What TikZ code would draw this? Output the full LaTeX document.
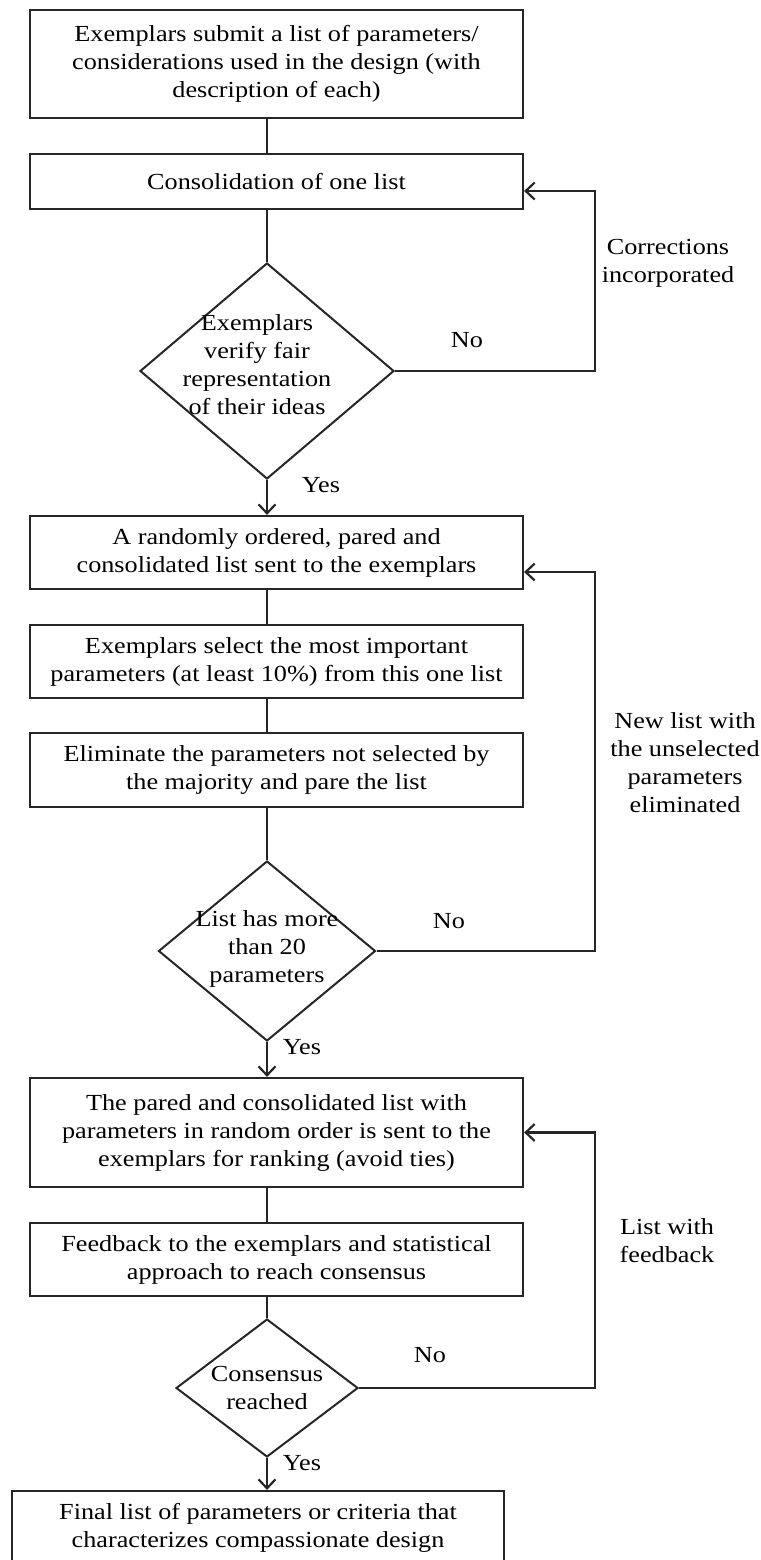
\documentclass[tikz,border=0pt]{standalone}
\usepackage{fontspec}
\setmainfont[FakeStretch=1.14]{Liberation Serif}
\usetikzlibrary{shapes.geometric,arrows.meta}
\begin{document}
\begin{tikzpicture}[x=1pt,y=-1pt,
  every node/.style={font=\fontsize{23}{28}\selectfont, text=black},
  box/.style={draw=black!85, line width=2.2pt, minimum width=493pt, align=center, inner sep=0pt},
  dia/.style={draw=black!85, diamond, line width=2pt, inner sep=0pt},
  txt/.style={align=center, inner sep=0pt},
  conn/.style={draw=black!85, line width=2pt},
  arr/.style={draw=black!85, line width=2.2pt, -{Straight Barb[length=9pt,width=17pt]}}
]
\useasboundingbox (0,0) rectangle (760,1560);

% boxes
\node[box, minimum height=108pt] (b1) at (276.5,64) {Exemplars submit a list of parameters/\\considerations used in the design (with\\description of each)};
\node[box, minimum height=55pt] (b2) at (276.5,181.5) {Consolidation of one list};
\node[box, minimum height=73pt] (b3) at (276.5,552.5) {A randomly ordered, pared and\\consolidated list sent to the exemplars};
\node[box, minimum height=73pt] (b4) at (276.5,661.5) {Exemplars select the most important\\parameters (at least 10\%) from this one list};
\node[box, minimum height=74pt] (b5) at (276.5,770) {Eliminate the parameters not selected by\\the majority and pare the list};
\node[box, minimum height=109pt] (b6) at (276.5,1132.5) {The pared and consolidated list with\\parameters in random order is sent to the\\exemplars for ranking (avoid ties)};
\node[box, minimum height=73pt] (b7) at (276.5,1259.5) {Feedback to the exemplars and statistical\\approach to reach consensus};
\node[box, minimum width=492pt, minimum height=73pt] (b8) at (258,1527.5) {Final list of parameters or criteria that\\characterizes compassionate design};

% diamonds
\node[dia, minimum width=254pt, minimum height=216pt] (d1) at (267,371) {};
\node[txt, xshift=-10pt, yshift=6pt] (d1t) at (d1) {Exemplars\\verify fair\\representation\\of their ideas};
\node[dia, minimum width=217pt, minimum height=180pt] (d2) at (267,951) {};
\node[txt, yshift=2pt] (d2t) at (d2) {List has more\\than 20\\parameters};
\node[dia, minimum width=182pt, minimum height=138pt] (d3) at (267,1388) {};
\node[txt] (d3t) at (d3) {Consensus\\reached};

% main flow (vertical spine at x of diamonds)
\draw[conn] (b1.south -| d1.north) -- (b2.north -| d1.north);
\draw[conn] (b2.south -| d1.north) -- (d1.north);
\draw[arr] (d1.south) -- (b3.north -| d1.south);
\draw[conn] (b3.south -| d1.north) -- (b4.north -| d1.north);
\draw[conn] (b4.south -| d1.north) -- (b5.north -| d1.north);
\draw[conn] (b5.south -| d2.north) -- (d2.north);
\draw[arr] (d2.south) -- (b6.north -| d2.south);
\draw[conn] (b6.south -| d2.north) -- (b7.north -| d2.north);
\draw[conn] (b7.south -| d3.north) -- (d3.north);
\draw[arr] (d3.south) -- (b8.north -| d3.south);

% feedback loops
\coordinate (r1) at (595,371);
\coordinate (r2) at (595,951);
\coordinate (r3) at (595,1388);
\draw[arr] (d1.east) -- (r1) |- ([yshift=-9.5pt]b2.east);
\draw[arr] (d2.east) -- (r2) |- ([yshift=-19.5pt]b3.east);
\draw[arr] (d3.east) -- (r3) |- (b6.east);

% labels
\node[txt] (l1) at (668,263.5) {Corrections\\incorporated};
\node[txt] (n1) at (467,340) {No};
\node[txt] (y1) at (321,485) {Yes};
\node[txt] (l2) at (685,762.5) {New list with\\the unselected\\parameters\\eliminated};
\node[txt] (n2) at (449,921) {No};
\node[txt] (y2) at (302,1047) {Yes};
\node[txt] (l3) at (667,1241) {List with\\feedback};
\node[txt] (n3) at (430,1355) {No};
\node[txt] (y3) at (302,1463) {Yes};
\end{tikzpicture}
\end{document}
